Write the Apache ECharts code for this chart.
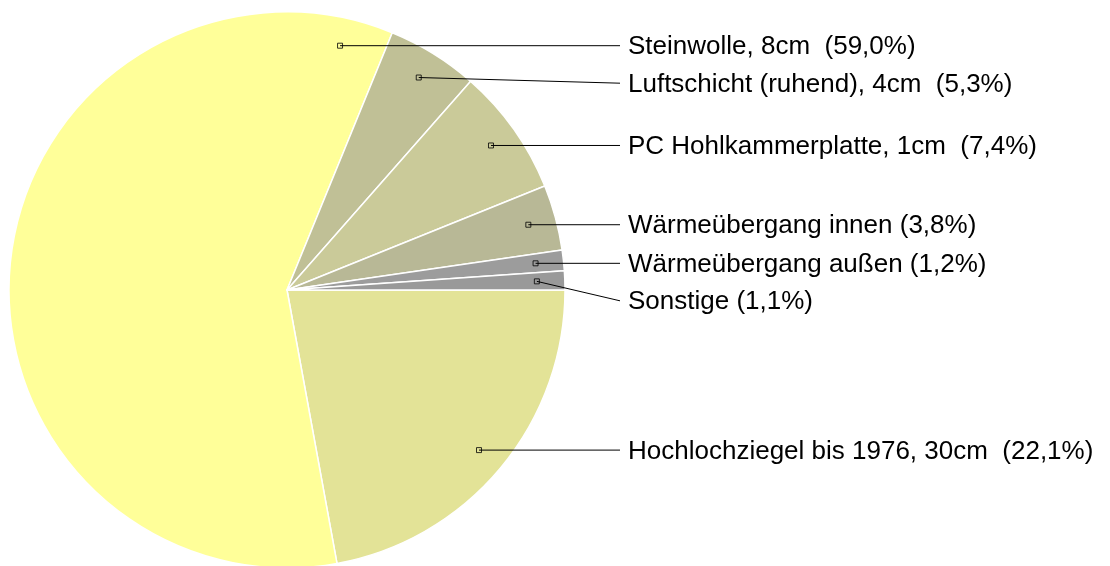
<!DOCTYPE html>
<html>
<head>
<meta charset="utf-8">
<script src="https://cdn.jsdelivr.net/npm/echarts@6/dist/echarts.min.js"></script>
<style>
html,body{margin:0;padding:0;background:#fff;}
#chart{width:1110px;height:566px;}
</style>
</head>
<body>
<div id="chart"></div>
<script>
// ---- data ----
const categories = [
  'Hochlochziegel bis 1976, 30cm',
  'Steinwolle, 8cm',
  'Luftschicht (ruhend), 4cm',
  'PC Hohlkammerplatte, 1cm',
  'Wärmeübergang innen',
  'Wärmeübergang außen',
  'Sonstige'
];
const shares = [22.1, 59.0, 5.3, 7.4, 3.8, 1.2, 1.1];
const colors = ['#E3E397', '#FFFF99', '#C0C096', '#CACA99', '#B8B896', '#9C9C9C', '#999999'];

// ---- layout constants ----
const CX = 287, CY = 290, R = 278, RA = 250;
const LABEL_X = 628, LINE_END_X = 620, MIN_GAP = 37.5, TEXT_DY = 1.5;

const total = shares.reduce((a, b) => a + b, 0);
let cum = 0;
const anchors = shares.map(v => {
  const s = cum / total * 360;
  cum += v;
  const e = cum / total * 360;
  let a = (s + e) / 2;
  if (a > 90 && a < 270) a = e - 10; // keep the anchor on the label side
  const rad = a * Math.PI / 180;
  return { angle: a, x: CX + RA * Math.cos(rad), y: CY + RA * Math.sin(rad) };
});
const order = anchors.map((a, i) => i).sort((p, q) => anchors[p].y - anchors[q].y);
const lineY = new Array(shares.length);
let prev = -Infinity;
order.forEach(i => {
  let y = anchors[i].y;
  if (y < prev + MIN_GAP) y = prev + MIN_GAP;
  lineY[i] = y;
  prev = y;
});

function fmt(name, v) {
  const sep = /cm$/.test(name) ? '  ' : ' ';
  return name + sep + '(' + v.toFixed(1).replace('.', ',') + '%)';
}

const chart = echarts.init(document.getElementById('chart'));
chart.setOption({
  animation: false,
  polar: { center: [CX, CY], radius: R },
  angleAxis: { type: 'value', min: 0, max: 360, startAngle: 0, clockwise: true, show: false },
  radiusAxis: { type: 'value', min: 0, max: R, show: false },
  series: [
    {
      type: 'pie',
      center: [CX, CY],
      radius: R,
      startAngle: 0,
      clockwise: true,
      avoidLabelOverlap: false,
      minShowLabelAngle: 0,
      data: categories.map((c, i) => ({ name: c, value: shares[i], itemStyle: { color: colors[i] } })),
      itemStyle: { borderColor: '#fff', borderWidth: 1.5 },
      emphasis: { disabled: true },
      label: {
        show: true,
        position: 'outside',
        formatter: p => fmt(p.name, p.value),
        fontFamily: 'Liberation Sans, Arial, sans-serif',
        fontSize: 26,
        color: '#000'
      },
      labelLine: { show: false },
      labelLayout: function (params) {
        const i = params.dataIndex;
        return { x: LABEL_X, y: lineY[i] + TEXT_DY, align: 'left', verticalAlign: 'middle' };
      }
    },
    {
      type: 'custom',
      coordinateSystem: 'polar',
      silent: true,
      z: 5,
      data: anchors.map((a, i) => [RA, a.angle, i]),
      renderItem: function (params, api) {
        const p = api.coord([api.value(0), api.value(1)]);
        const i = api.value(2);
        return {
          type: 'polyline',
          shape: { points: [p, [LINE_END_X, lineY[i]]] },
          style: { stroke: '#000', lineWidth: 1, fill: null }
        };
      }
    },
    {
      type: 'scatter',
      coordinateSystem: 'polar',
      symbol: 'rect',
      symbolSize: 5,
      silent: true,
      z: 10,
      itemStyle: { color: 'rgba(0,0,0,0)', borderColor: '#000', borderWidth: 1 },
      data: anchors.map(a => [RA, a.angle])
    }
  ]
});
</script>
</body>
</html>
